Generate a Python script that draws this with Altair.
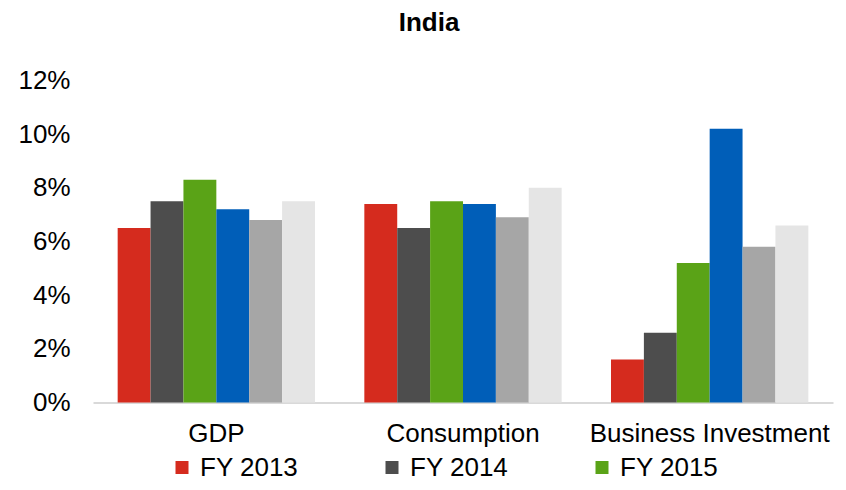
import altair as alt
import pandas as pd

categories = ["GDP", "Consumption", "Business Investment"]
series = ["FY 2013", "FY 2014", "FY 2015", "FY 2016", "FY 2017", "FY 2018"]
colors = ["#D52B1E", "#4D4D4D", "#5AA317", "#005EB8", "#A6A6A6", "#E5E5E5"]
legend_shown = ["FY 2013", "FY 2014", "FY 2015"]

gdp = [6.5, 7.5, 8.3, 7.2, 6.8, 7.5]
consumption = [7.4, 6.5, 7.5, 7.4, 6.9, 8.0]
business_investment = [1.6, 2.6, 5.2, 10.2, 5.8, 6.6]

values = {"GDP": gdp, "Consumption": consumption, "Business Investment": business_investment}
rows = []
for c in categories:
    for s, v in zip(series, values[c]):
        rows.append({"category": c, "series": s, "value": v / 100})
df = pd.DataFrame(rows)

FONT = "Liberation Sans"
FS = 26

chart = alt.Chart(df).mark_bar().encode(
    x=alt.X("category:N", sort=categories,
            scale=alt.Scale(paddingInner=0.2, paddingOuter=0.1),
            axis=alt.Axis(title=None, labelAngle=0, ticks=False, domainColor="#D9D9D9",
                          domainWidth=2, labelFontSize=FS, labelColor="#000000",
                          labelPadding=18, labelFont=FONT, labelLimit=400)),
    xOffset=alt.XOffset("series:N", sort=series, scale=alt.Scale(paddingInner=0, paddingOuter=0)),
    y=alt.Y("value:Q", scale=alt.Scale(domain=[0, 0.12]),
            axis=alt.Axis(title=None, format=".0%", values=[0, 0.02, 0.04, 0.06, 0.08, 0.10, 0.12],
                          domain=False, ticks=False, grid=False, labelFontSize=FS,
                          labelColor="#000000", labelPadding=23, labelFont=FONT)),
    color=alt.Color("series:N", sort=series,
                    scale=alt.Scale(domain=series, range=colors),
                    legend=alt.Legend(title=None, values=legend_shown, orient="none",
                                      legendX=76, legendY=374, direction="horizontal",
                                      columns=3, symbolType="square", symbolSize=169,
                                      symbolStrokeWidth=0, labelFontSize=FS, labelFont=FONT,
                                      labelColor="#000000", columnPadding=80, labelOffset=5,
                                      padding=0, labelLimit=400)),
).properties(
    width=740,
    height=322,
    title=alt.Title("India", fontSize=26, font=FONT, fontWeight="bold", color="#000000",
                    anchor="middle", frame="group", offset=32, dx=-34),
    padding={"left": 85, "top": 72.5, "right": 5, "bottom": 80},
    autosize=alt.AutoSizeParams(type="none"),
).configure_view(stroke=None)

chart.save("out.html", embed_options={"renderer": "svg", "actions": False})
